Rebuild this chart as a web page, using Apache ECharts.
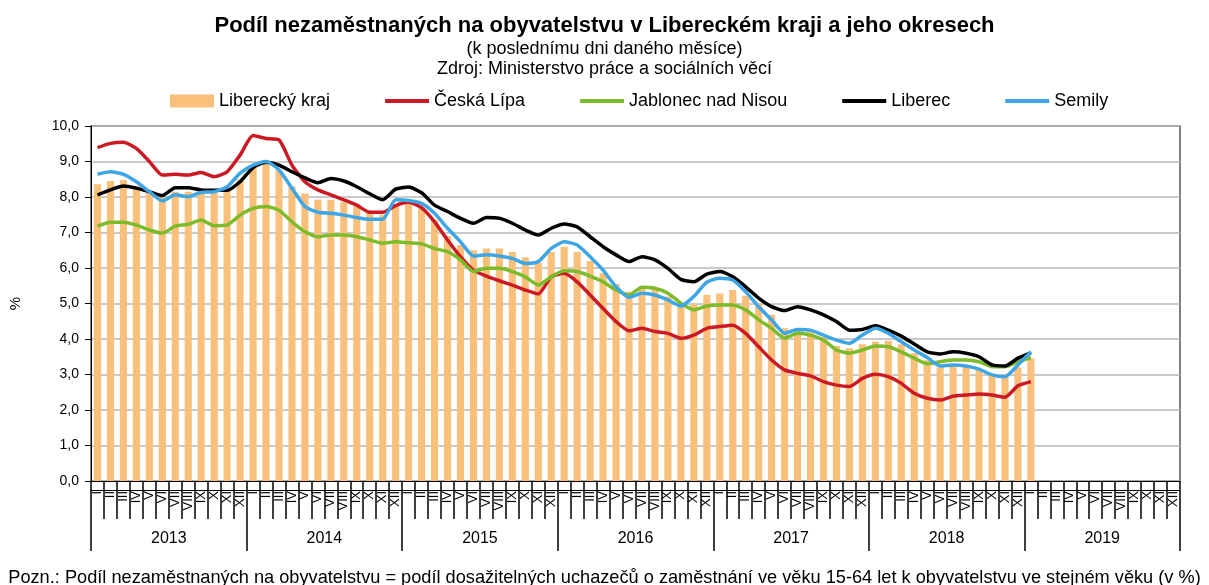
<!DOCTYPE html>
<html>
<head>
<meta charset="utf-8">
<script src="https://cdn.jsdelivr.net/npm/echarts@6/dist/echarts.min.js"></script>
<style>
  html, body { margin: 0; padding: 0; background: #fff; }
  #main { width: 1209px; height: 585px; }
</style>
</head>
<body>
<div id="main"></div>
<script>
// roky a měsíce (římské číslice na ose)
var years = ['2013', '2014', '2015', '2016', '2017', '2018', '2019'];
var months = ['I', 'II', 'III', 'IV', 'V', 'VI', 'VII', 'VIII', 'IX', 'X', 'XI', 'XII'];

// Liberecký kraj (sloupce), leden 2013 - leden 2019
var kraj = [
  8.36, 8.45, 8.48, 8.30, 8.12, 8.00, 8.15, 8.15, 8.18, 8.15, 8.20, 8.50,
  8.90, 8.95, 8.75, 8.30, 8.10, 7.92, 7.92, 7.85, 7.74, 7.58, 7.50, 7.78,
  7.82, 7.68, 7.35, 6.90, 6.65, 6.50, 6.55, 6.55, 6.45, 6.30, 6.15, 6.45,
  6.60, 6.45, 6.20, 5.85, 5.55, 5.33, 5.43, 5.43, 5.20, 5.00, 4.98, 5.25,
  5.28, 5.38, 5.22, 5.00, 4.68, 4.30, 4.25, 4.21, 4.05, 3.80, 3.74, 3.85,
  3.92, 3.95, 3.85, 3.60, 3.40, 3.20, 3.25, 3.25, 3.15, 3.00, 3.00, 3.20,
  3.45
];
var ceskaLipa = [
  9.39, 9.51, 9.54, 9.37, 9.00, 8.62, 8.64, 8.62, 8.69, 8.57, 8.71, 9.18,
  9.73, 9.65, 9.61, 8.90, 8.43, 8.20, 8.06, 7.92, 7.77, 7.57, 7.57, 7.76,
  7.85, 7.70, 7.30, 6.79, 6.32, 5.94, 5.77, 5.64, 5.52, 5.38, 5.27, 5.75,
  5.85, 5.61, 5.24, 4.86, 4.49, 4.23, 4.30, 4.21, 4.16, 4.02, 4.11, 4.30,
  4.35, 4.39, 4.16, 3.78, 3.41, 3.13, 3.03, 2.96, 2.80, 2.70, 2.66, 2.89,
  3.01, 2.94, 2.75, 2.47, 2.33, 2.28, 2.39, 2.42, 2.45, 2.42, 2.36, 2.68,
  2.80
];
var jablonec = [
  7.18, 7.29, 7.29, 7.21, 7.07, 6.98, 7.18, 7.23, 7.35, 7.19, 7.21, 7.49,
  7.68, 7.73, 7.63, 7.30, 7.02, 6.88, 6.93, 6.93, 6.88, 6.79, 6.70, 6.74,
  6.71, 6.68, 6.55, 6.46, 6.23, 5.90, 5.99, 5.99, 5.90, 5.75, 5.52, 5.75,
  5.92, 5.90, 5.77, 5.61, 5.38, 5.24, 5.46, 5.43, 5.29, 5.01, 4.82, 4.93,
  4.96, 4.96, 4.82, 4.54, 4.30, 4.02, 4.16, 4.11, 3.97, 3.69, 3.60, 3.69,
  3.80, 3.78, 3.64, 3.46, 3.30, 3.36, 3.41, 3.41, 3.36, 3.22, 3.22, 3.36,
  3.48
];
var liberec = [
  8.06, 8.20, 8.31, 8.25, 8.15, 8.04, 8.26, 8.26, 8.20, 8.19, 8.19, 8.43,
  8.83, 8.98, 8.90, 8.71, 8.54, 8.40, 8.52, 8.45, 8.29, 8.09, 7.92, 8.22,
  8.28, 8.12, 7.77, 7.59, 7.40, 7.26, 7.42, 7.40, 7.26, 7.07, 6.93, 7.12,
  7.24, 7.16, 6.88, 6.60, 6.37, 6.18, 6.32, 6.23, 5.99, 5.68, 5.61, 5.83,
  5.90, 5.75, 5.47, 5.15, 4.91, 4.80, 4.91, 4.82, 4.68, 4.49, 4.25, 4.27,
  4.37, 4.25, 4.08, 3.86, 3.64, 3.58, 3.64, 3.60, 3.50, 3.27, 3.24, 3.46,
  3.61
];
var semily = [
  8.64, 8.71, 8.64, 8.43, 8.15, 7.89, 8.06, 8.01, 8.13, 8.15, 8.29, 8.67,
  8.90, 9.00, 8.76, 8.25, 7.73, 7.57, 7.54, 7.49, 7.42, 7.37, 7.37, 7.92,
  7.90, 7.82, 7.54, 7.12, 6.74, 6.34, 6.37, 6.34, 6.27, 6.13, 6.18, 6.55,
  6.74, 6.65, 6.32, 5.94, 5.47, 5.17, 5.29, 5.24, 5.10, 4.93, 5.20, 5.60,
  5.71, 5.66, 5.33, 4.91, 4.54, 4.16, 4.27, 4.25, 4.11, 3.97, 3.88, 4.11,
  4.30, 4.16, 3.92, 3.69, 3.48, 3.24, 3.27, 3.24, 3.15, 2.99, 2.94, 3.27,
  3.64
];

var monthKeys = [];
years.forEach(function (y) {
  months.forEach(function (m) { monthKeys.push(y + '-' + m); });
});

var font = 'Liberation Sans';
var lineIcon = 'path://M0,0 L44,0 L44,4 L0,4 Z';
var myChart = echarts.init(document.getElementById('main'));

function lineSerie(name, data, color) {
  return {
    name: name,
    type: 'line',
    data: data,
    symbol: 'none',
    smooth: 0.2,
    lineStyle: { color: color, width: 3.5 },
    itemStyle: { color: color },
    z: 3
  };
}

var option = {
  backgroundColor: '#fff',
  animation: false,
  textStyle: { fontFamily: font, color: '#000' },
  title: [
    {
      text: 'Podíl nezaměstnaných na obyvatelstvu v Libereckém kraji a jeho okresech',
      left: 'center', top: 10,
      textStyle: { fontFamily: font, fontSize: 22, fontWeight: 'bold', color: '#000' }
    },
    {
      text: '(k poslednímu dni daného měsíce)',
      left: 'center', top: 35,
      textStyle: { fontFamily: font, fontSize: 18, fontWeight: 'normal', color: '#000' }
    },
    {
      text: 'Zdroj: Ministerstvo práce a sociálních věcí',
      left: 'center', top: 55,
      textStyle: { fontFamily: font, fontSize: 18, fontWeight: 'normal', color: '#000' }
    },
    {
      text: 'Pozn.: Podíl nezaměstnaných na obyvatelstvu = podíl dosažitelných uchazečů o zaměstnání ve věku 15-64 let k obyvatelstvu ve stejném věku (v %)',
      left: 'center', top: 564,
      textStyle: { fontFamily: font, fontSize: 18.2, fontWeight: 'normal', color: '#000' }
    }
  ],
  legend: {
    left: 165, top: 87,
    itemWidth: 44, itemHeight: 13, itemGap: 55,
    symbolKeepAspect: true,
    textStyle: { fontFamily: font, fontSize: 18, color: '#000' },
    data: [
      { name: 'Liberecký kraj', icon: 'rect' },
      { name: 'Česká Lípa', icon: lineIcon },
      { name: 'Jablonec nad Nisou', icon: lineIcon },
      { name: 'Liberec', icon: lineIcon },
      { name: 'Semily', icon: lineIcon }
    ]
  },
  grid: { left: 88, right: 29, top: 126, bottom: 104, show: true, borderColor: '#555', borderWidth: 1.5 },
  xAxis: [
    {
      type: 'category',
      data: monthKeys,
      axisLine: { show: true, lineStyle: { color: '#000', width: 1 } },
      axisTick: { show: true, interval: 0, length: 38, lineStyle: { color: '#000', width: 1.5 } },
      axisLabel: {
        interval: 0, rotate: 90, margin: 10, fontSize: 13, color: '#000', fontFamily: font,
        formatter: function (v) { return v.split('-')[1]; }
      }
    },
    {
      type: 'category',
      data: years,
      position: 'bottom',
      axisLine: { show: false },
      axisTick: { show: true, interval: 0, length: 70, lineStyle: { color: '#000', width: 1.5 } },
      axisLabel: { margin: 50, fontSize: 16, color: '#000', fontFamily: font }
    },
    {
      type: 'category',
      data: years,
      position: 'bottom',
      offset: 9,
      axisLine: { show: true, lineStyle: { color: '#000', width: 1 } },
      axisTick: { show: false },
      axisLabel: { show: false }
    }
  ],
  yAxis: {
    type: 'value',
    min: 0, max: 10, interval: 1,
    name: '%',
    nameLocation: 'middle',
    nameGap: 68,
    nameRotate: 90,
    nameTextStyle: { fontFamily: font, fontSize: 15, color: '#000' },
    axisLine: { show: true, lineStyle: { color: '#000', width: 1 } },
    axisTick: { show: true, length: 6, lineStyle: { color: '#000' } },
    axisLabel: {
      margin: 12, fontSize: 14, color: '#000', fontFamily: font,
      formatter: function (v) { return v.toFixed(1).replace('.', ','); }
    },
    splitLine: { lineStyle: { color: '#b8b8b8', width: 1.5 } }
  },
  series: [
    {
      name: 'Liberecký kraj',
      type: 'bar',
      data: kraj,
      barCategoryGap: '45%',
      itemStyle: { color: '#f9c07b' },
      z: 2
    },
    lineSerie('Česká Lípa', ceskaLipa, '#cc1a24'),
    lineSerie('Jablonec nad Nisou', jablonec, '#7dbb2b'),
    lineSerie('Liberec', liberec, '#000000'),
    lineSerie('Semily', semily, '#3fa6e6')
  ]
};
myChart.setOption(option);
</script>
</body>
</html>
